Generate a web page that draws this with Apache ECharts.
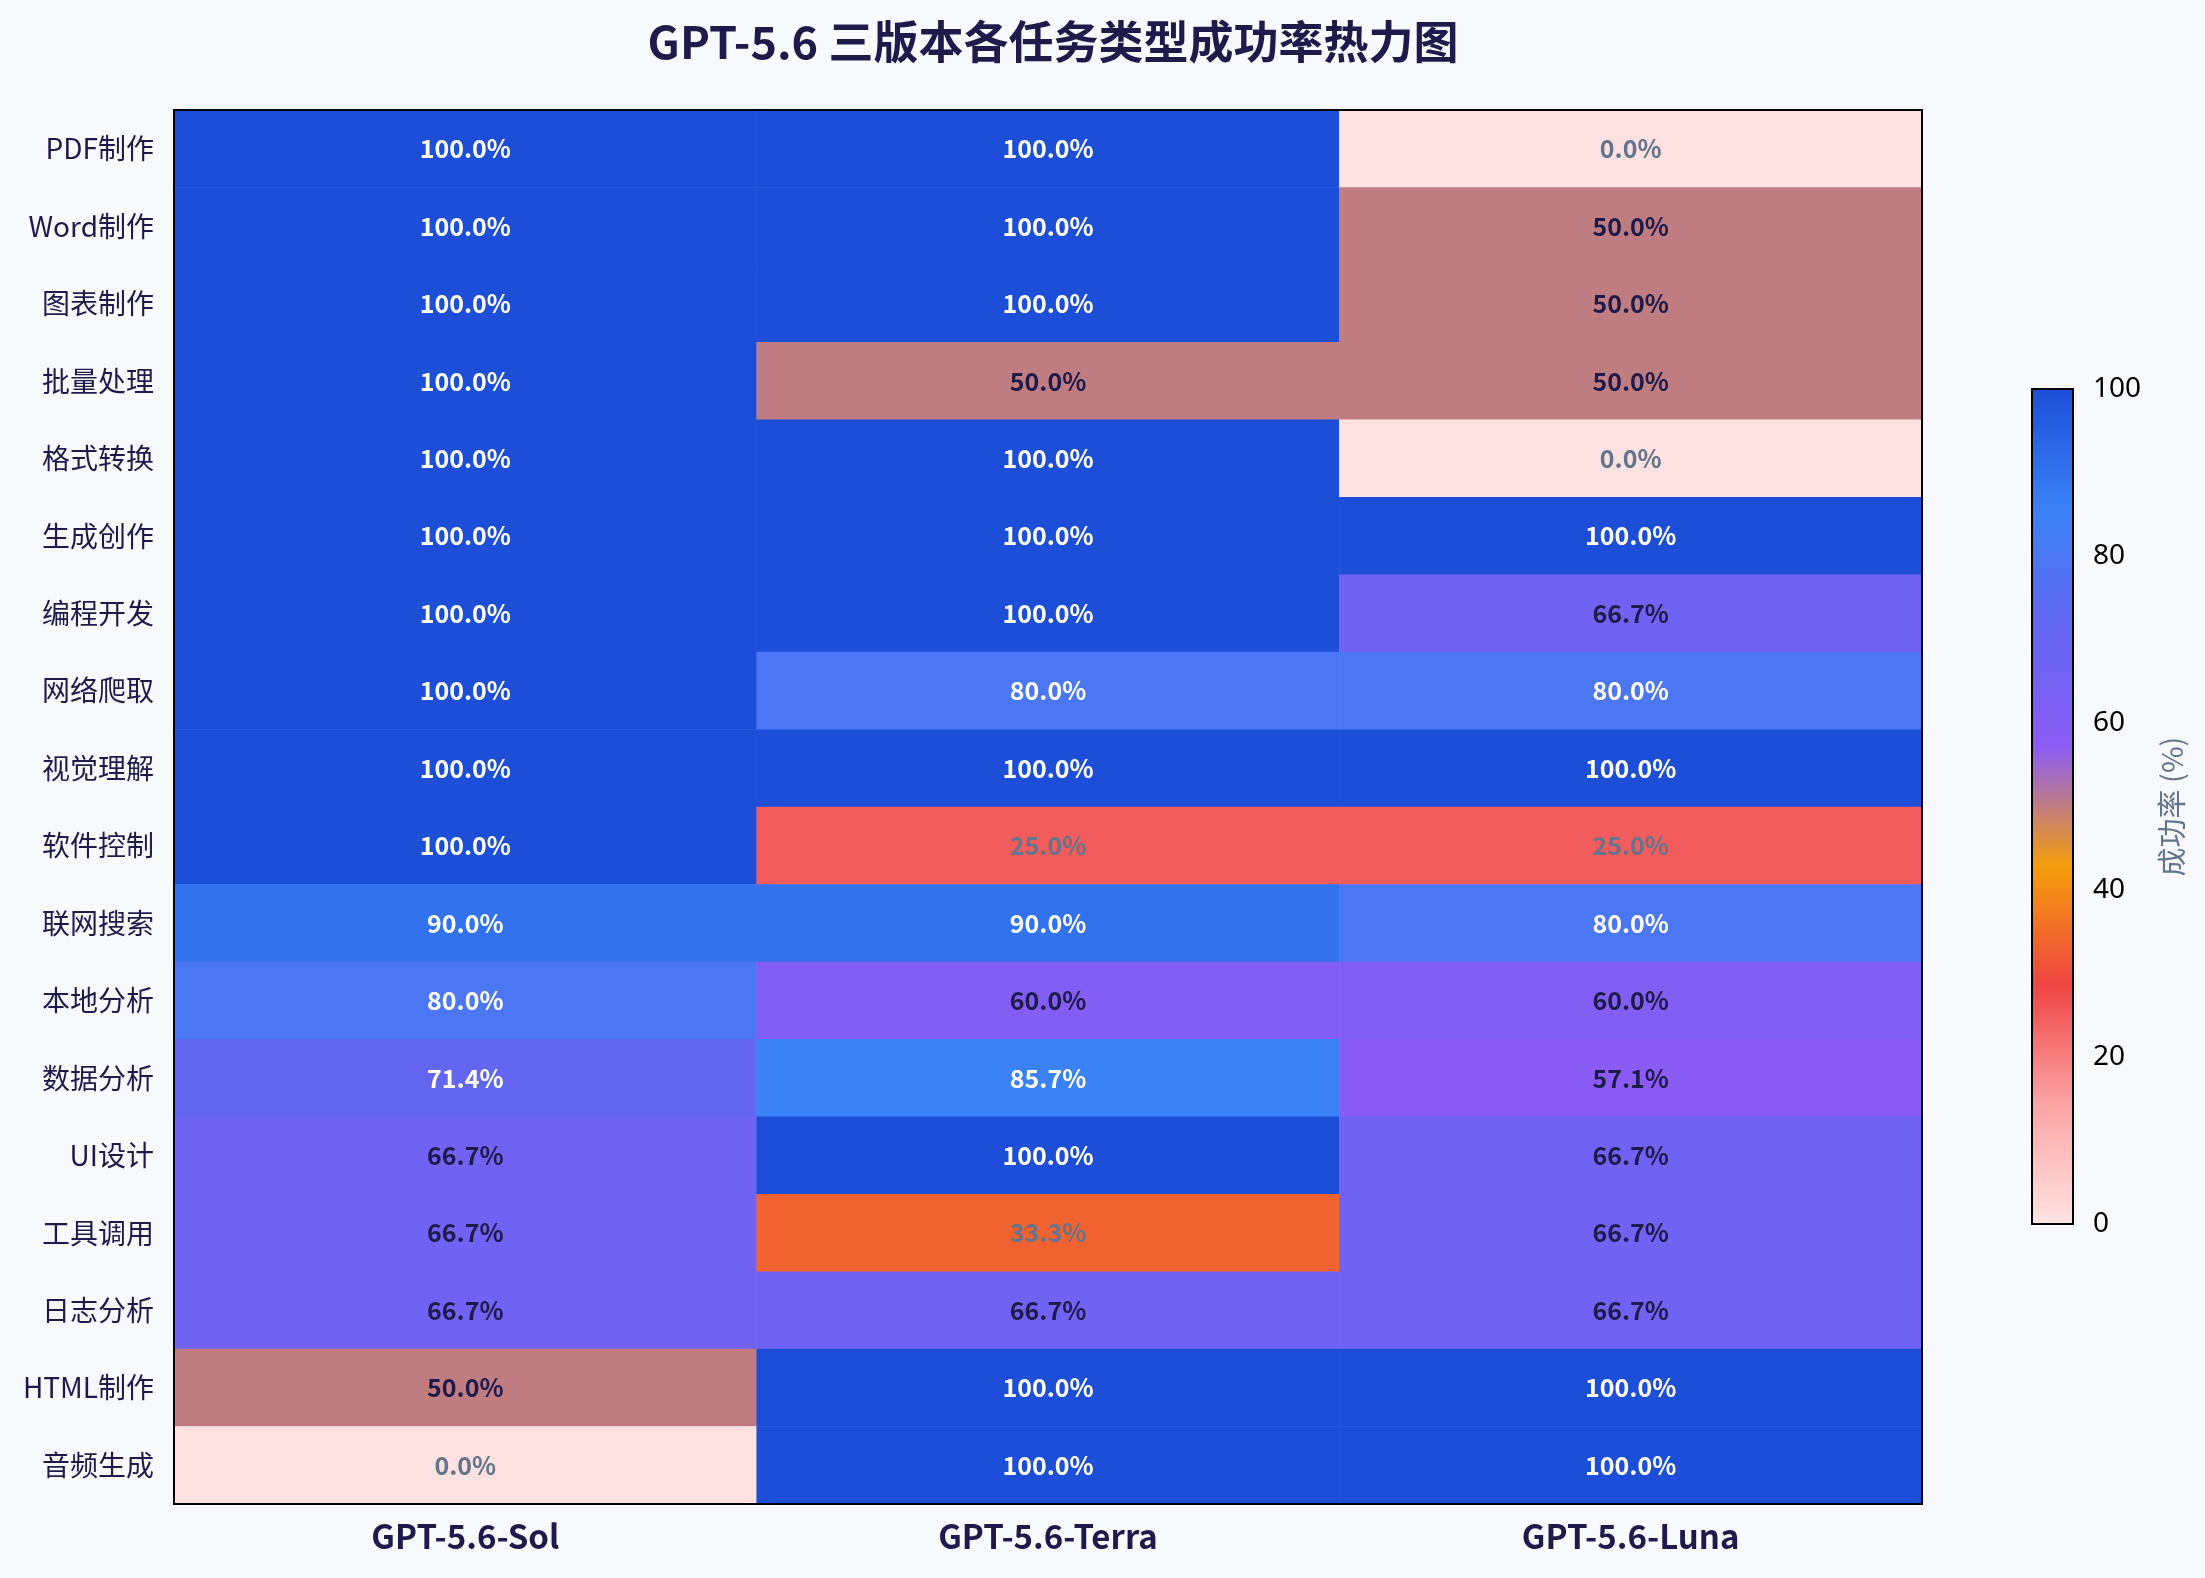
<!DOCTYPE html>
<html>
<head>
<meta charset="utf-8">
<script src="https://cdn.jsdelivr.net/npm/echarts@6/dist/echarts.min.js"></script>
<style>
  html, body { margin: 0; padding: 0; background: #f8f9fc; }
  #chart { width: 2205px; height: 1578px; }
</style>
</head>
<body>
<div id="chart"></div>
<script>
const models = ['GPT-5.6-Sol', 'GPT-5.6-Terra', 'GPT-5.6-Luna']
const tasks = ['PDF制作', 'Word制作', '图表制作', '批量处理', '格式转换', '生成创作', '编程开发', '网络爬取', '视觉理解',
  '软件控制', '联网搜索', '本地分析', '数据分析', 'UI设计', '工具调用', '日志分析', 'HTML制作', '音频生成']
// success rate per task, one array per model
const solRates = [100, 100, 100, 100, 100, 100, 100, 100, 100, 100, 90, 80, 71.4, 66.7, 66.7, 66.7, 50, 0]
const terraRates = [100, 100, 100, 50, 100, 100, 100, 80, 100, 25, 90, 60, 85.7, 100, 33.3, 66.7, 100, 100]
const lunaRates = [0, 50, 50, 50, 0, 100, 66.7, 80, 100, 25, 80, 60, 57.1, 66.7, 66.7, 66.7, 100, 100]
const colorbarTicks = [0, 20, 40, 60, 80, 100]

const palette = ['#fee2e2', '#fca5a5', '#ef4444', '#f59e0b', '#8b5cf6', '#6366f1', '#3b82f6', '#1d4ed8']

function labelColor(v) {
  if (v > 70) return '#ffffff'
  if (v >= 50) return '#1e1b4b'
  return '#64748b'
}

const cells = []
;[solRates, terraRates, lunaRates].forEach((rates, xi) => {
  rates.forEach((v, yi) => {
    cells.push({ value: [xi, yi, v], label: { color: labelColor(v) } })
  })
})

const chart = echarts.init(document.getElementById('chart'))
const option = {
  backgroundColor: '#f8f9fc',
  animation: false,
  title: {
    text: 'GPT-5.6 三版本各任务类型成功率热力图',
    left: 1048,
    top: 14,
    textAlign: 'center',
    textStyle: {
      fontFamily: 'Noto Sans CJK SC',
      fontSize: 45,
      fontWeight: 'bold',
      color: '#1e1b4b'
    }
  },
  grid: [
    { // heatmap
      left: 174, top: 110, width: 1748, height: 1394,
      show: true, z: 10,
      backgroundColor: 'transparent',
      borderColor: '#000', borderWidth: 2
    },
    { // colorbar frame
      left: 2032, top: 389, width: 41, height: 835,
      show: true, z: 10,
      backgroundColor: 'transparent',
      borderColor: '#000', borderWidth: 2
    }
  ],
  xAxis: [
    {
      type: 'category',
      gridIndex: 0,
      data: models,
      axisLine: { show: false },
      axisTick: { alignWithLabel: true, length: 10, lineStyle: { color: '#000', width: 2 } },
      axisLabel: {
        margin: 16,
        fontFamily: 'Noto Sans CJK SC',
        fontSize: 33,
        fontWeight: 'bold',
        color: '#1e1b4b'
      },
      splitArea: { show: false }
    },
    { type: 'value', gridIndex: 1, show: false, min: 0, max: 1 }
  ],
  yAxis: [
    {
      type: 'category',
      gridIndex: 0,
      data: tasks,
      inverse: true,
      axisLine: { show: false },
      axisTick: { alignWithLabel: true, length: 10, lineStyle: { color: '#000', width: 2 } },
      axisLabel: {
        margin: 20,
        fontFamily: 'Noto Sans CJK SC',
        fontSize: 28,
        color: '#1e1b4b'
      },
      splitArea: { show: false }
    },
    {
      type: 'value',
      gridIndex: 1,
      position: 'right',
      min: colorbarTicks[0],
      max: colorbarTicks[colorbarTicks.length - 1],
      interval: 20,
      axisLine: { show: false },
      axisTick: { show: true, length: 9, lineStyle: { color: '#000', width: 2 } },
      axisLabel: {
        margin: 20,
        fontFamily: 'Noto Sans',
        fontSize: 28,
        color: '#000'
      },
      splitLine: { show: false },
      name: '成功率 (%)',
      nameLocation: 'middle',
      nameRotate: 90,
      nameGap: 84,
      nameTextStyle: {
        fontFamily: 'Noto Sans CJK SC',
        fontSize: 29,
        color: '#64748b'
      }
    }
  ],
  visualMap: {
    type: 'continuous',
    seriesIndex: 0,
    min: 0,
    max: 100,
    calculable: false,
    hoverLink: false,
    orient: 'vertical',
    left: 2032,
    top: 389,
    itemWidth: 41,
    itemHeight: 835,
    padding: 0,
    inRange: { color: palette }
  },
  series: [
    {
      type: 'heatmap',
      xAxisIndex: 0,
      yAxisIndex: 0,
      data: cells,
      label: {
        show: true,
        fontFamily: 'Noto Sans CJK SC',
        fontSize: 25,
        fontWeight: 'bold',
        formatter: p => p.value[2].toFixed(1) + '%'
      },
      emphasis: { disabled: true }
    }
  ]
}
chart.setOption(option)
window.addEventListener('resize', () => chart.resize())
</script>
</body>
</html>
